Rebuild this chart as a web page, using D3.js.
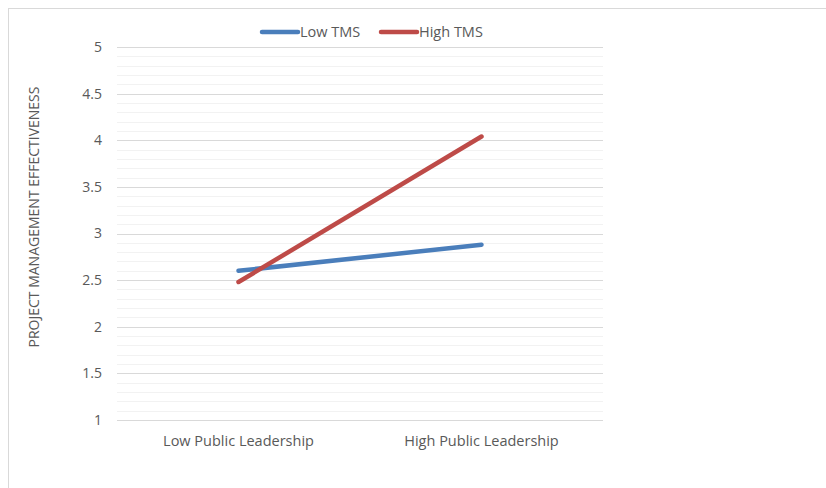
<!DOCTYPE html>
<html>
<head>
<meta charset="utf-8">
<script src="https://cdn.jsdelivr.net/npm/d3@7"></script>
<style>
  body { margin: 0; background: #fff; }
  svg text { font-family: 'Open Sans', 'Noto Sans', sans-serif; fill: #595959; }
</style>
</head>
<body>
<div id="chart"></div>
<script>
const categories = ['Low Public Leadership', 'High Public Leadership'];
const seriesNames = ['Low TMS', 'High TMS'];
const lowTms = [2.60, 2.88];
const highTms = [2.48, 4.04];
const yTicks = [1, 1.5, 2, 2.5, 3, 3.5, 4, 4.5, 5];

const width = 826, height = 488;
const margin = { top: 47, right: 223, bottom: 68, left: 117 };
const colors = ['#4a7ebb', '#be4b48'];

const svg = d3.select('#chart').append('svg')
  .attr('width', width)
  .attr('height', height);

// chart border
svg.append('rect')
  .attr('x', 8.5).attr('y', 8.5)
  .attr('width', 830).attr('height', 490)
  .attr('fill', 'none')
  .attr('stroke', '#d9d9d9');

const x = d3.scaleBand()
  .domain(categories)
  .range([margin.left, width - margin.right]);

const y = d3.scaleLinear()
  .domain([1, 5])
  .range([height - margin.bottom, margin.top]);

// minor gridlines every 0.1
const minor = d3.range(10, 51).map(d => d / 10).filter(d => !yTicks.includes(d));
svg.append('g').selectAll('line')
  .data(minor)
  .join('line')
  .attr('x1', margin.left).attr('x2', width - margin.right)
  .attr('y1', d => Math.round(y(d)) + 0.5).attr('y2', d => Math.round(y(d)) + 0.5)
  .attr('stroke', '#f2f2f2');

// major gridlines
svg.append('g').selectAll('line')
  .data(yTicks)
  .join('line')
  .attr('x1', margin.left).attr('x2', width - margin.right)
  .attr('y1', d => Math.round(y(d)) + 0.5).attr('y2', d => Math.round(y(d)) + 0.5)
  .attr('stroke', '#d9d9d9');

// y tick labels
svg.append('g').selectAll('text')
  .data(yTicks)
  .join('text')
  .attr('x', margin.left - 15)
  .attr('y', d => y(d))
  .attr('dy', '0.35em')
  .attr('text-anchor', 'end')
  .style('font-size', '14px')
  .text(d => d);

// x tick labels
svg.append('g').selectAll('text')
  .data(categories)
  .join('text')
  .attr('x', d => x(d) + x.bandwidth() / 2)
  .attr('y', height - margin.bottom + 26)
  .attr('text-anchor', 'middle')
  .style('font-size', '14.5px')
  .text(d => d);

// y axis title
svg.append('text')
  .attr('transform', `translate(39, 217) rotate(-90)`)
  .attr('text-anchor', 'middle')
  .style('font-size', '14px')
  .text('PROJECT MANAGEMENT EFFECTIVENESS');

// lines
const line = d3.line()
  .x((d, i) => x(categories[i]) + x.bandwidth() / 2)
  .y(d => y(d));

[lowTms, highTms].forEach((s, i) => {
  svg.append('path')
    .datum(s)
    .attr('d', line)
    .attr('fill', 'none')
    .attr('stroke', colors[i])
    .attr('stroke-width', 4.5)
    .attr('stroke-linecap', 'round');
});

// legend
const legend = svg.append('g').selectAll('g')
  .data(seriesNames)
  .join('g')
  .attr('transform', (d, i) => `translate(${262 + i * 119}, 32)`);

legend.append('line')
  .attr('x1', 0).attr('x2', 36)
  .attr('stroke', (d, i) => colors[i])
  .attr('stroke-width', 4.5)
  .attr('stroke-linecap', 'round');

legend.append('text')
  .attr('x', 38)
  .attr('dy', '0.35em')
  .style('font-size', '14.5px')
  .text(d => d);
</script>
</body>
</html>
